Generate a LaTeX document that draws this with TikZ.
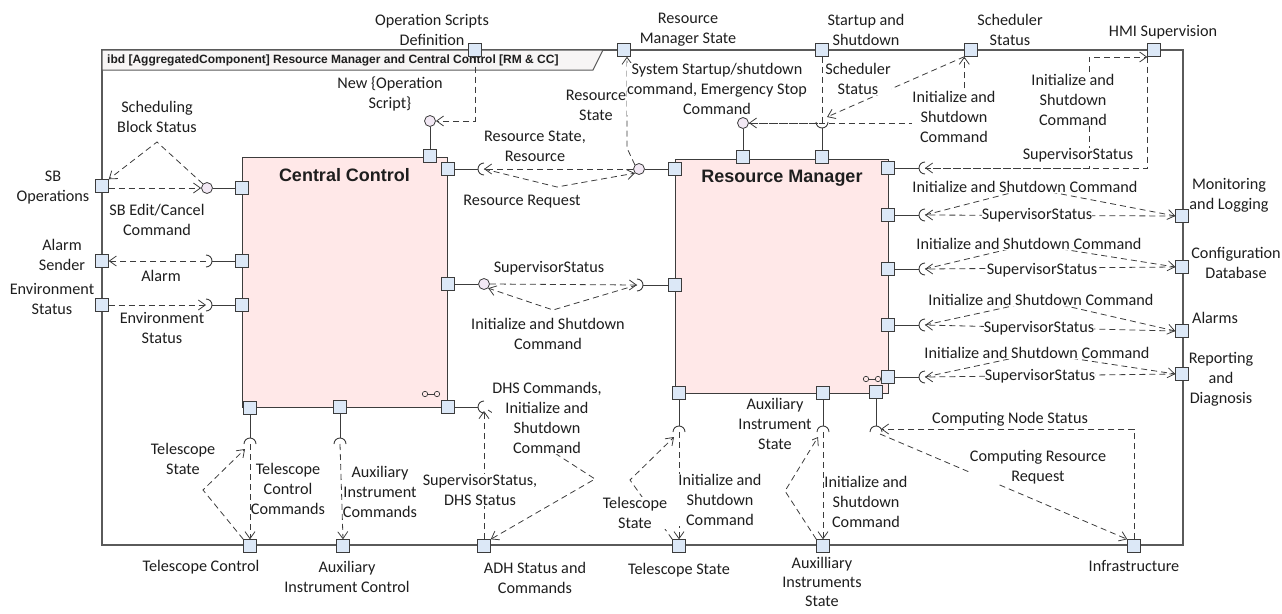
\documentclass[tikz,border=0pt]{standalone}
\usepackage{fontspec}
\setmainfont{Carlito}
\newfontfamily\arialf{Liberation Sans}
\usetikzlibrary{arrows.meta,calc,shadows}
\definecolor{ln}{HTML}{3C3C3C}
\definecolor{frameln}{HTML}{5A5A5A}
\definecolor{portfill}{HTML}{DCE8F7}
\definecolor{boxfill}{HTML}{FFE8E8}
\definecolor{ballfill}{HTML}{F2E8F4}
\definecolor{tabfill}{HTML}{F7F5F5}
\definecolor{txt}{HTML}{1E1E1E}
\newcommand\lblfont{\fontsize{16.2}{20}\selectfont}
\newcommand\sock[3]{%
  \coordinate (#1) at (#2);
  \coordinate (#1b) at ($(#1)+({#3+90}:6)$);
  \draw[solidln] ($(#1)+(#3:6)$) arc[start angle=#3, delta angle=180, radius=6];
}
\newcommand\linksym[1]{%
  \draw[draw=ln, line width=0.7pt] ($(#1)+(-6,0)$) circle[radius=2.7] ($(#1)+(6,0)$) circle[radius=2.7];
  \draw[draw=ln, line width=0.7pt] ($(#1)+(-3.3,0)$) -- ($(#1)+(3.3,0)$);
}
\begin{document}
\begin{tikzpicture}[x=1pt,y=-1pt,
  lbl/.style={font=\lblfont, text=txt, align=center, inner sep=0pt, fill=white},
  flbl/.style={font=\lblfont, text=txt, align=center, inner sep=0pt},
  port/.style={draw=ln, fill=portfill, minimum size=12.5pt, inner sep=0pt, line width=0.9pt,
    drop shadow={shadow xshift=1.2pt, shadow yshift=-1.2pt, fill=black, opacity=0.25}},
  ball/.style={circle, draw=ln, fill=ballfill, minimum size=11pt, inner sep=0pt, line width=0.8pt},
  flow/.style={draw=ln, line width=0.8pt, dash pattern=on 6pt off 4pt, -{Straight Barb[length=7pt,width=10pt]}},
  solidln/.style={draw=ln, line width=0.9pt},
  blk/.style={draw=ln, fill=boxfill, line width=1pt, inner sep=0pt},
  blktitle/.style={font=\arialf\bfseries\fontsize{18}{20}\selectfont, text=txt, inner sep=0pt},
]
\useasboundingbox (0,0) rectangle (1282,613);

% frame and tab
\node[draw=frameln, line width=1.3pt, minimum width=1081pt, minimum height=495pt, inner sep=0pt] (frame) at (642.5,297.5) {};
\draw[fill=tabfill, draw=frameln, line width=1pt] (102,50) -- (603,50) -- (593,70) -- (102,70) -- cycle;
\node[anchor=west, font=\arialf\bfseries\fontsize{12}{14}\selectfont, text=txt, inner sep=0pt] (title) at (107,60.5)
  {ibd [AggregatedComponent] Resource Manager and Central Control [RM \& CC]};

% blocks
\node[blk, minimum width=205pt, minimum height=250pt] (cc) at (344.5,282) {};
\node[blktitle] (cctitle) at (344.5,175) {Central Control};
\node[blk, minimum width=213pt, minimum height=234pt] (rm) at (781.5,276) {};
\node[blktitle] (rmtitle) at (782,178) {Resource Manager};
\linksym{431,394}
\linksym{872,379}

% ports on Central Control
\node[port] (pCCt) at (430,156) {};
\node[port] (pCCrt) at (448,169) {};
\node[port] (pCCl) at (242,188) {};
\node[port] (pCCa) at (242,261) {};
\node[port] (pCCe) at (242,305) {};
\node[port] (pCCr) at (448,284) {};
\node[port] (pCCrb) at (448,407) {};
\node[port] (pCCb1) at (250,408) {};
\node[port] (pCCb2) at (340,407) {};
% ports on Resource Manager
\node[port] (pRMl) at (675,169) {};
\node[port] (pRMl2) at (675,285) {};
\node[port] (pRMt1) at (743,157) {};
\node[port] (pRMt2) at (822,157) {};
\node[port] (pRMr1) at (888,168) {};
\node[port] (pRMr2) at (888,215) {};
\node[port] (pRMr3) at (888,269) {};
\node[port] (pRMr4) at (888,325) {};
\node[port] (pRMr5) at (888,377) {};
\node[port] (pRMb1) at (679,393) {};
\node[port] (pRMb2) at (823,393) {};
\node[port] (pRMb3) at (876,392) {};
% ports on the frame
\node[port] (pOpDef) at (475,50) {};
\node[port] (pRMS) at (624,50) {};
\node[port] (pSU) at (822,50) {};
\node[port] (pSch) at (971,50) {};
\node[port] (pHMI) at (1154,50) {};
\node[port] (pSB) at (102,186) {};
\node[port] (pAl) at (102,261) {};
\node[port] (pEnv) at (102,305) {};
\node[port] (pMon) at (1182,216) {};
\node[port] (pConf) at (1182,267) {};
\node[port] (pAlm) at (1182,331) {};
\node[port] (pRep) at (1182,374) {};
\node[port] (pTC) at (250,546) {};
\node[port] (pAIC) at (343,546) {};
\node[port] (pADH) at (484,546) {};
\node[port] (pTS) at (679,546) {};
\node[port] (pAIS) at (823,546) {};
\node[port] (pInf) at (1134,546) {};

% balls
\node[ball] (bCCt) at (430,121) {};
\node[ball] (bCCl) at (207,188) {};
\node[ball] (bCCr) at (484,284) {};
\node[ball] (bRM) at (639,169) {};
\node[ball] (bRMt) at (743,123) {};

% sockets
\sock{sRes}{484,169}{90}
\sock{sAl}{206,261}{-90}
\sock{sEnv}{206,305}{-90}
\sock{sTC}{250,444}{180}
\sock{sAIC}{340,444}{180}
\sock{sDHS}{484,407}{90}
\sock{sMid}{637,285}{-90}
\sock{sTop}{822,122}{0}
\sock{sHMI}{925,168}{90}
\sock{sMon}{925,215}{90}
\sock{sConf}{925,269}{90}
\sock{sAlm}{925,325}{90}
\sock{sRep}{925,377}{90}
\sock{sTS}{679,432}{180}
\sock{sAIS}{823,432}{180}
\sock{sInf}{876,432}{180}

% solid assembly lines
\draw[solidln] (pCCt) -- (bCCt);
\draw[solidln] (pCCrt) -- (sResb);
\draw[solidln] (pCCl) -- (bCCl);
\draw[solidln] (pCCa) -- (sAlb);
\draw[solidln] (pCCe) -- (sEnvb);
\draw[solidln] (pCCr) -- (bCCr);
\draw[solidln] (pCCrb) -- (sDHSb);
\draw[solidln] (pCCb1) -- (sTCb);
\draw[solidln] (pCCb2) -- (sAICb);
\draw[solidln] (pRMl) -- (bRM);
\draw[solidln] (pRMl2) -- (sMidb);
\draw[solidln] (pRMt1) -- (bRMt);
\draw[solidln] (pRMt2) -- (sTopb);
\draw[solidln] (pRMr1) -- (sHMIb);
\draw[solidln] (pRMr2) -- (sMonb);
\draw[solidln] (pRMr3) -- (sConfb);
\draw[solidln] (pRMr4) -- (sAlmb);
\draw[solidln] (pRMr5) -- (sRepb);
\draw[solidln] (pRMb1) -- (sTSb);
\draw[solidln] (pRMb2) -- (sAISb);
\draw[solidln] (pRMb3) -- (sInfb);

% bend points
\coordinate (sbApex) at (157,142);
\coordinate (resApex) at (557,187);
\coordinate (rsBend) at (627,148);
\coordinate (hmiBend) at (1089,57);
\coordinate (midApex) at (553,310);
\coordinate (dhsApex) at (595,479);
\coordinate (tcApex) at (203,490);
\coordinate (tsApex) at (630,480);
\coordinate (aisApex) at (785,491);
\coordinate (monApex) at (1030,188);
\coordinate (confApex) at (1030,244);
\coordinate (almApex) at (1040,300);
\coordinate (repApex) at (1037,353);

% dashed flows
\draw[flow] (pOpDef.south) |- (bCCt.east);
\draw[flow] (pSB.east |- bCCl) -- (bCCl.west);
\draw[flow] (bCCl.north west) -- (sbApex) -- (pSB.north east);
\draw[flow] (sAl) -- (pAl.east);
\draw[flow] (pEnv.east) -- (sEnv);
\draw[flow] (bRM.west) -- (sRes);
\draw[flow] (sRes) -- (resApex) -- (bRM.south west);
\draw[flow] (bRM.north west) -- (rsBend) -- (rsBend |- pRMS.south);
\draw[flow] (pSU.south) |- (bRMt.east);
\draw[flow] (pSch.south west) -- ($(sTop)+(5,-5)$);
\draw[flow] (bRMt.east) -| (pSch.south west);
\draw[flow] (sHMI) -| (hmiBend) -- (hmiBend -| pHMI.west);
\draw[flow] (pHMI.south west) |- (sHMI);
\draw[flow] (pMon.west) -- (sMon);
\draw[flow] (sMon) -- (monApex) -- (pMon.west);
\draw[flow] (pConf.west) -- (sConf);
\draw[flow] (sConf) -- (confApex) -- (pConf.west);
\draw[flow] (pAlm.west) -- (sAlm);
\draw[flow] (sAlm) -- (almApex) -- (pAlm.west);
\draw[flow] (pRep.west) -- (sRep);
\draw[flow] (sRep) -- (repApex) -- (pRep.west);
\draw[flow] (bCCr.east) -- (sMid);
\draw[flow] (sMid) -- (midApex) -- (bCCr.south east);
\draw[flow] (pADH.north) -- ($(sDHS)+(0,4)$);
\draw[flow] ($(sDHS)+(4,3)$) -- (dhsApex) -- (pADH.north east);
\draw[flow] (sTC) -- (pTC.north);
\draw[flow] (pTC.north west) -- (tcApex) -- ($(sTC)+(-5,5)$);
\draw[flow] (sAIC) -- (pAIC.north);
\draw[flow] (sTS) -- (pTS.north);
\draw[flow] (pTS.north west) -- (tsApex) -- ($(sTS)+(-5,5)$);
\draw[flow] (sAIS) -- (pAIS.north);
\draw[flow] (pAIS.north west) -- (aisApex) -- ($(sAIS)+(-5,5)$);
\draw[flow] (pInf.north) |- ($(sInf)+(5,-3)$);
\draw[flow] ($(sInf)+(4,2)$) -- (pInf.north west);

% connector labels
\node[lbl] (l1) at (390,94) {New \{Operation\\Script\}};
\node[lbl] (l2) at (157,117) {Scheduling\\Block Status};
\node[lbl] (l3) at (157,220) {SB Edit/Cancel\\Command};
\node[lbl] (l4) at (161,276) {Alarm};
\node[lbl] (l5) at (162,328) {Environment\\Status};
\node[lbl] (l6) at (535,146) {Resource State,\\Resource};
\node[lbl] (l7) at (522,202) {Resource Request};
\node[lbl] (l8) at (596,105) {Resource\\State};
\node[lbl] (l9) at (717,89) {System Startup/shutdown\\command, Emergency Stop\\Command};
\node[lbl] (l10) at (858,79) {Scheduler\\Status};
\node[lbl] (l11) at (954,117) {Initialize and\\Shutdown\\Command};
\node[lbl] (l12) at (1073,100) {Initialize and\\Shutdown\\Command};
\node[lbl] (l13) at (1078,155) {SupervisorStatus};
\node[lbl] (l14) at (1025,187) {Initialize and Shutdown Command};
\node[lbl] (l15) at (1037,215) {SupervisorStatus};
\node[lbl] (l16) at (1029,244) {Initialize and Shutdown Command};
\node[lbl] (l17) at (1042,270) {SupervisorStatus};
\node[lbl] (l18) at (1041,300) {Initialize and Shutdown Command};
\node[lbl] (l19) at (1039,328) {SupervisorStatus};
\node[lbl] (l20) at (1037,353) {Initialize and Shutdown Command};
\node[lbl] (l21) at (1040,376) {SupervisorStatus};
\node[lbl] (l22) at (549,268) {SupervisorStatus};
\node[lbl] (l23) at (548,334) {Initialize and Shutdown\\Command};
\node[lbl] (l24) at (547,418) {DHS Commands,\\Initialize and\\Shutdown\\Command};
\node[lbl] (l25) at (480,490) {SupervisorStatus,\\DHS Status};
\node[lbl] (l26) at (183,459) {Telescope\\State};
\node[lbl] (l27) at (288,489) {Telescope\\Control\\Commands};
\node[lbl] (l28) at (380,492) {Auxiliary\\Instrument\\Commands};
\node[lbl] (l29) at (720,500) {Initialize and\\Shutdown\\Command};
\node[lbl] (l30) at (635,513) {Telescope\\State};
\node[lbl] (l31) at (775,424) {Auxiliary\\Instrument\\State};
\node[lbl] (l32) at (866,502) {Initialize and\\Shutdown\\Command};
\node[lbl] (l33) at (1010,419) {Computing Node Status};
\node[lbl] (l34) at (1038,467) {Computing Resource\\Request};

% frame port labels
\node[flbl] (f1) at (432,30) {Operation Scripts\\Definition};
\node[flbl] (f2) at (688,30) {Resource\\Manager State};
\node[flbl] (f3) at (866,30) {Startup and\\Shutdown};
\node[flbl] (f4) at (1010,30) {Scheduler\\Status};
\node[flbl] (f5) at (1163,32) {HMI Supervision};
\node[flbl] (f6) at (53,188) {SB\\Operations};
\node[flbl] (f7) at (62,255) {Alarm\\Sender};
\node[flbl] (f8) at (52,299) {Environment\\Status};
\node[flbl] (f9) at (1229,195) {Monitoring\\and Logging};
\node[flbl] (f10) at (1236,263) {Configuration\\Database};
\node[flbl] (f11) at (1215,318) {Alarms};
\node[flbl] (f12) at (1221,379) {Reporting\\and\\Diagnosis};
\node[flbl] (f13) at (201,567) {Telescope Control};
\node[flbl] (f14) at (347,577) {Auxiliary\\Instrument Control};
\node[flbl] (f15) at (535,578) {ADH Status and\\Commands};
\node[flbl] (f16) at (679,570) {Telescope State};
\node[flbl, font=\fontsize{16.2}{19}\selectfont] (f17) at (822,582) {Auxilliary\\Instruments\\State};
\node[flbl] (f18) at (1134,566) {Infrastructure};
\end{tikzpicture}
\end{document}
